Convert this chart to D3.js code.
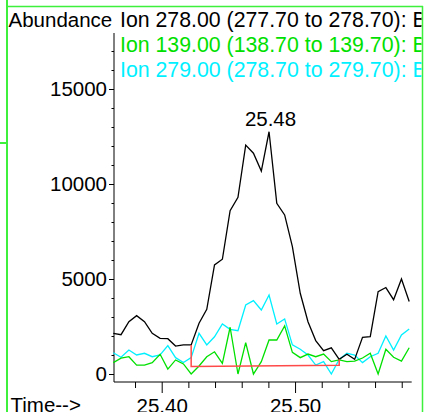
<!DOCTYPE html>
<meta charset="utf-8">
<style>
body { margin: 0; background: #fff; }
svg { display: block; font-family: "Liberation Sans", Arial, sans-serif; }
.trace { fill: none; stroke-width: 1.3px; stroke-linejoin: miter; }
.axis path, .axis line { stroke: #000; stroke-width: 1px; }
.axis text { fill: #000; font-size: 20.5px; }
</style>
<svg width="425" height="412"></svg>
<script src="https://d3js.org/d3.v7.min.js"></script>
<script>

// scan times (min)
var times = [25.3637, 25.3695, 25.3754, 25.3812, 25.3871, 25.3929, 25.3988, 25.4046,
  25.4104, 25.4163, 25.4221, 25.4280, 25.4338, 25.4396, 25.4455, 25.4513, 25.4572,
  25.4630, 25.4688, 25.4747, 25.4805, 25.4863, 25.4922, 25.4980, 25.5039, 25.5097,
  25.5155, 25.5214, 25.5272, 25.5331, 25.5389, 25.5447, 25.5506, 25.5564, 25.5623,
  25.5681, 25.5739, 25.5798, 25.5856];

// abundance for each ion
var ion278 = [2140, 2070, 2750, 3070, 2750, 2140, 1880, 1860, 1470, 1530, 1530, 2670,
  3400, 5740, 6040, 8600, 9300, 12050, 11620, 10680, 12750, 8980, 8370, 6700, 4250,
  2750, 1760, 1230, 1380, 770, 1040, 770, 1930, 1970, 4330, 4550, 3910, 5000, 3820];

var ion139 = [600, 830, 910, 470, 470, 600, 1040, 260, 740, 530, 0, 420, 910, 1170,
  560, 2460, 0, 1650, 0, 650, 1790, 1790, 2530, 1140, 860, 1050, 910, 1050, 650, 740,
  650, 680, 840, 1090, 0, 1300, 880, 680, 1380];

var ion279 = [1120, 880, 1260, 1000, 1090, 910, 1000, 1490, 860, 600, 860, 2140, 1530,
  1960, 2630, 2350, 2280, 3630, 3860, 3370, 4160, 2630, 2900, 1530, 1300, 1000, 470,
  650, 0, 770, 1090, 1000, 600, 910, 1090, 2000, 1260, 2050, 2370];

// integration baseline (red)
var baseTimes = [25.4221, 25.5331];
var baseAbund = [400, 460];

var ionLabels = ["Ion 278.00 (277.70 to 278.70): B",
                 "Ion 139.00 (138.70 to 139.70): B",
                 "Ion 279.00 (278.70 to 279.70): B"];
var ionColors = ["#000000", "#00e000", "#00f0ff"];

var yMajor = [0, 5000, 10000, 15000];
var yMinor = d3.range(1000, 18000, 1000);
var xMajor = [25.40, 25.50];
var xMinor = [25.38, 25.42, 25.44, 25.46, 25.48, 25.52, 25.54, 25.56, 25.58];
var peakLabel = "25.48";

var svg = d3.select("svg");

var x = d3.scaleLinear().domain([25.4, 25.5]).range([161.7, 295.05]);
var y = d3.scaleLinear().domain([0, 18000]).range([374, 32]);

var x0 = 114, x1 = 411.7, yAxisY = 382;

// frame
var green = "#3cf03c";
svg.append("line").attr("x1", 7).attr("x2", 7).attr("y1", 0).attr("y2", 412)
  .attr("stroke", green).attr("stroke-width", 2);
svg.append("line").attr("x1", 0).attr("x2", 7).attr("y1", 143).attr("y2", 143)
  .attr("stroke", green).attr("stroke-width", 2);
svg.append("line").attr("x1", 7).attr("x2", 423).attr("y1", 6.5).attr("y2", 6.5)
  .attr("stroke", green).attr("stroke-width", 1.5);
svg.append("line").attr("x1", 422.5).attr("x2", 422.5).attr("y1", 6).attr("y2", 412)
  .attr("stroke", green).attr("stroke-width", 1.5);

svg.append("clipPath").attr("id", "clip")
  .append("rect").attr("x", 8).attr("y", 7).attr("width", 413.5).attr("height", 405);

// y axis
svg.append("g").attr("class", "axis")
    .attr("transform", "translate(" + x0 + ",0)")
    .call(d3.axisLeft(y).tickValues(yMinor).tickSize(2.5).tickFormat(""))
    .call(function(g) { g.select(".domain").remove(); });
svg.append("g").attr("class", "axis")
    .attr("transform", "translate(" + x0 + ",0)")
    .call(d3.axisLeft(y).tickValues(yMajor).tickSize(5).tickPadding(2).tickFormat(d3.format("d")))
    .call(function(g) { g.select(".domain").remove(); });
svg.append("line").attr("x1", x0).attr("x2", x0).attr("y1", 33).attr("y2", yAxisY)
  .attr("stroke", "#000");

// x axis
svg.append("g").attr("class", "axis")
    .attr("transform", "translate(0," + yAxisY + ")")
    .call(d3.axisBottom(x).tickValues(xMinor).tickSize(6).tickFormat(""))
    .call(function(g) { g.select(".domain").remove(); });
svg.append("g").attr("class", "axis")
    .attr("transform", "translate(0," + yAxisY + ")")
    .call(d3.axisBottom(x).tickValues(xMajor).tickSize(11).tickPadding(5).tickFormat(d3.format(".2f")))
    .call(function(g) { g.select(".domain").remove(); });
svg.append("line").attr("x1", x0).attr("x2", x1).attr("y1", yAxisY).attr("y2", yAxisY)
  .attr("stroke", "#000");

// traces
var line = d3.line()
    .x(function(d, i) { return x(times[i]); })
    .y(function(d) { return y(d); });

var series = [ion279, ion139, ion278];
var seriesColors = [ionColors[2], ionColors[1], ionColors[0]];
series.forEach(function(s, k) {
  svg.append("path").attr("class", "trace")
    .attr("d", line(s))
    .attr("stroke", seriesColors[k]);
});

// baseline
var i0 = times.indexOf(baseTimes[0]), i1 = times.indexOf(baseTimes[1]);
svg.append("path")
  .attr("d", "M" + x(baseTimes[0]) + "," + y(ion278[i0]) +
             "L" + x(baseTimes[0]) + "," + y(baseAbund[0]) +
             "L" + x(baseTimes[1]) + "," + y(baseAbund[1]) +
             "L" + x(baseTimes[1]) + "," + y(ion278[i1]))
  .attr("fill", "none").attr("stroke", "#ff4a4a").attr("stroke-width", 1.5);

// peak label
var ip = ion278.indexOf(d3.max(ion278));
svg.append("text")
  .attr("x", x(times[ip]) + 1.5).attr("y", y(ion278[ip]) - 6)
  .attr("text-anchor", "middle").style("font-size", "20.5px")
  .text(peakLabel);

// headings
svg.append("text").attr("x", 8.5).attr("y", 27).style("font-size", "20.5px").text("Abundance");
svg.append("text").attr("x", 10.5).attr("y", 411.5).style("font-size", "20.5px").text("Time-->");

svg.append("g").attr("clip-path", "url(#clip)")
  .selectAll("text").data(ionLabels).enter().append("text")
    .attr("x", 120)
    .attr("y", function(d, i) { return 27 + i * 25; })
    .style("font-size", "21.3px")
    .attr("fill", function(d, i) { return ionColors[i]; })
    .text(function(d) { return d; });

</script>
